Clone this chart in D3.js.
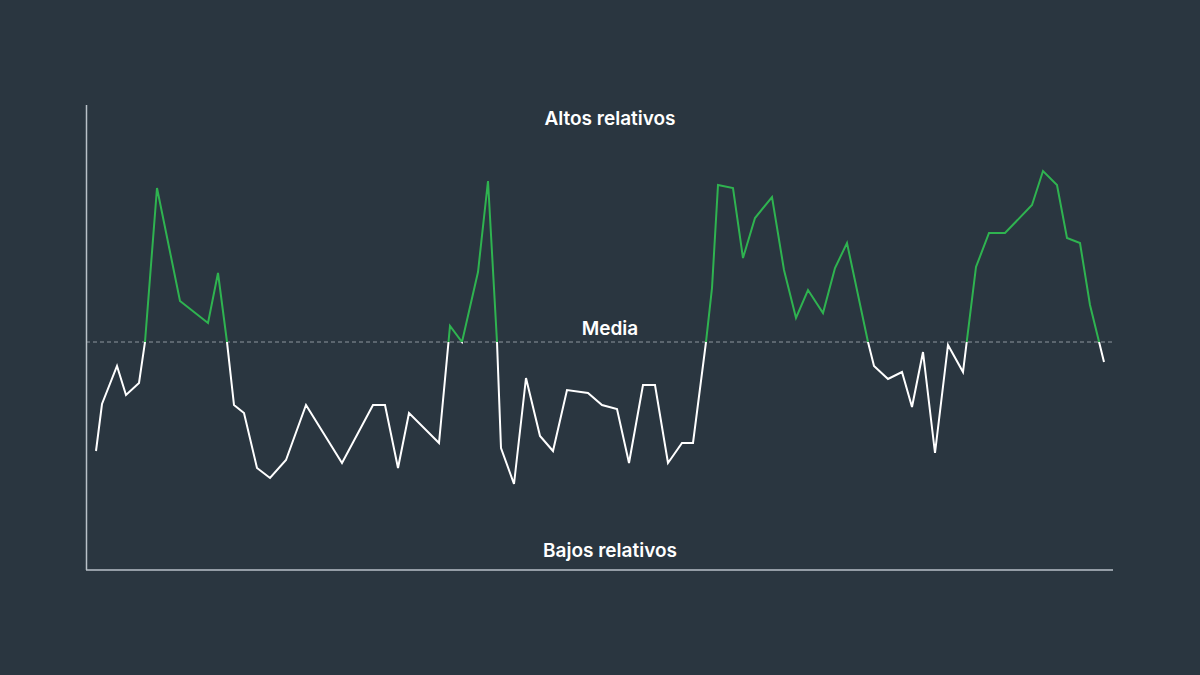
<!DOCTYPE html>
<html><head><meta charset="utf-8">
<script src="https://cdn.jsdelivr.net/npm/d3@7/dist/d3.min.js"></script>
<style>body{margin:0;background:#2a3640;}svg{display:block}</style>
</head><body>
<svg id="c" width="1200" height="675"></svg>
<script>
const times = [0,6,21,30,43,49,61,84,112,122,131,138,148,161,174,190,210,246,277,289,302,313,343,354,366,382,392,401,405,418,430,444,457,471,492,506,521,533,547,559,572,586,597,610,616,622,637,647,659,676,688,700,712,727,739,751,772,778,792,806,816,827,839,852,867,880,893,909,936,947,961,971,984,994,1008];
const values = [-10.9,-6.2,-2.4,-5.3,-4.1,0,15.4,4.1,1.9,6.9,0,-6.3,-7.1,-12.6,-13.6,-11.8,-6.3,-12.1,-6.3,-6.3,-12.6,-7.1,-10.1,1.6,0,7,16.1,0,-10.6,-14.2,-3.6,-9.4,-10.9,-4.8,-5.1,-6.3,-6.7,-12.1,-4.3,-4.3,-12.1,-10.1,-10.1,0,5.4,15.7,15.4,8.4,12.4,14.5,7.2,2.4,5.2,2.9,7.4,9.9,0,-2.4,-3.7,-3,-6.5,-1,-11.1,-0.3,-3,7.5,10.9,10.9,13.7,17.1,15.7,10.4,9.9,3.7,-2];
const labels = {top:"Altos relativos", mid:"Media", bottom:"Bajos relativos"};
const svg = d3.select("#c");
const W=1200;
const x = d3.scaleLinear().domain([0,1008]).range([96,1104]);
const y = d3.scaleLinear().domain([-22.8,23.7]).range([570,105]);
const data = times.map((t,i)=>({t,v:values[i]}));
const line = d3.line().x(d=>x(d.t)).y(d=>y(d.v));
const defs = svg.append("defs");
defs.append("clipPath").attr("id","above").append("rect").attr("x",0).attr("y",0).attr("width",W).attr("height",y(0));
defs.append("clipPath").attr("id","below").append("rect").attr("x",0).attr("y",y(0)).attr("width",W).attr("height",675-y(0));
svg.append("line").attr("x1",86).attr("x2",1113).attr("y1",y(0)).attr("y2",y(0)).attr("stroke","#8c959d").attr("stroke-dasharray","4,3").attr("stroke-width",1);
svg.append("path").datum(data).attr("d",line).attr("fill","none").attr("stroke","#2fb350").attr("stroke-width",2).attr("clip-path","url(#above)");
svg.append("path").datum(data).attr("d",line).attr("fill","none").attr("stroke","#ffffff").attr("stroke-width",2).attr("clip-path","url(#below)");
svg.append("line").attr("x1",86.5).attr("x2",86.5).attr("y1",105).attr("y2",570).attr("stroke","#b9c1c8").attr("stroke-width",1.5);
svg.append("line").attr("x1",86).attr("x2",1113).attr("y1",570).attr("y2",570).attr("stroke","#b9c1c8").attr("stroke-width",1.5);
const txt=(s,yy)=>svg.append("text").attr("x",610).attr("y",yy).attr("text-anchor","middle").attr("fill","#fff").attr("font-family","Inter, 'Open Sans', sans-serif").attr("font-weight",600).attr("font-size",19).text(s);
txt(labels.top,125);txt(labels.mid,335);txt(labels.bottom,557);
</script></body></html>
